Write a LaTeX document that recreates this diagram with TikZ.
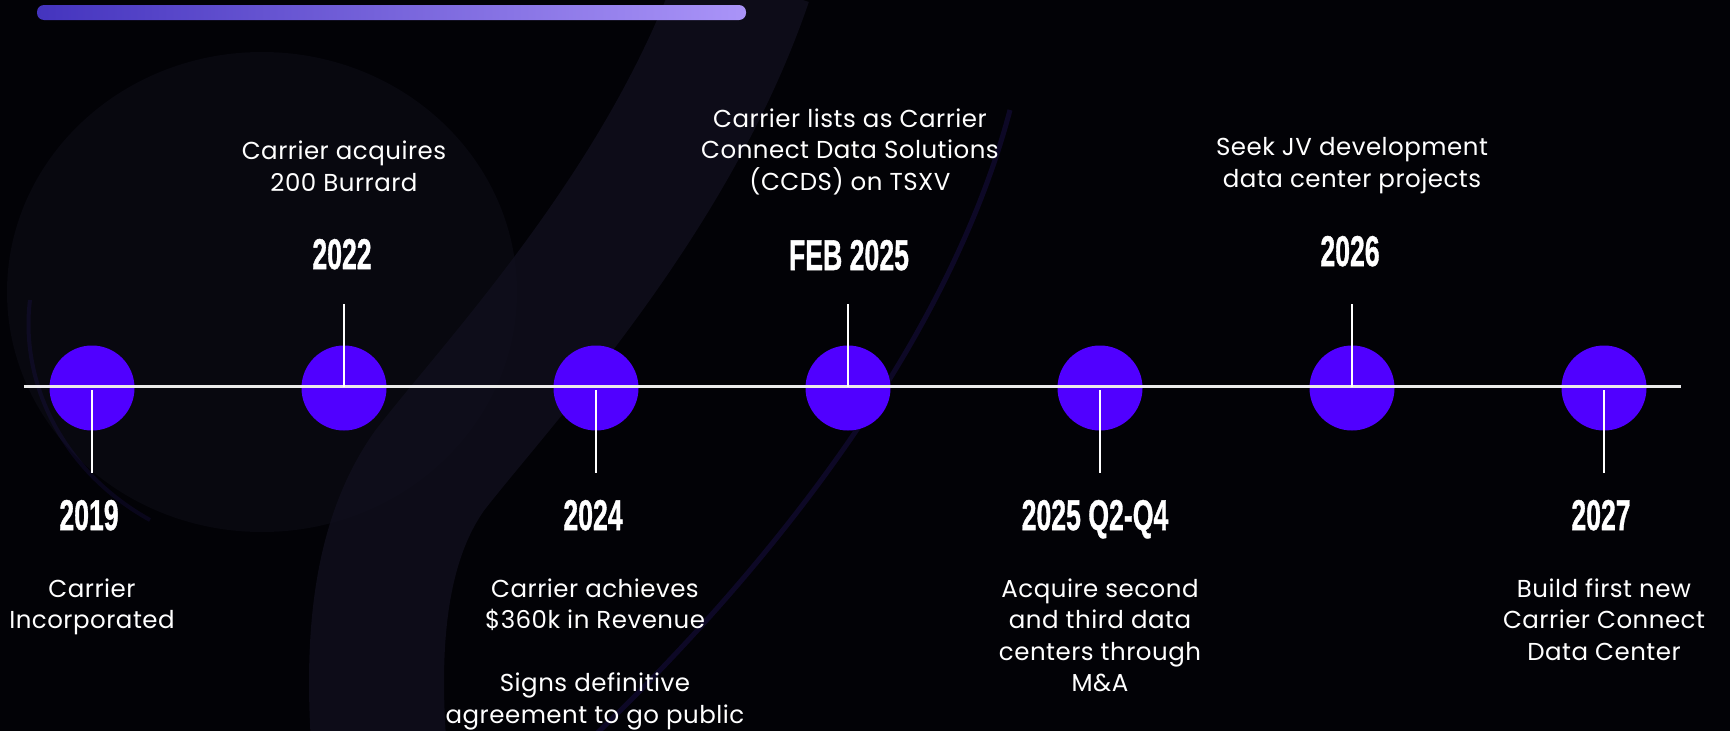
\documentclass[tikz,border=0pt]{standalone}
\usepackage{fontspec}
\setmainfont{Poppins}[LetterSpace=2]
\newfontfamily\yearfont{Liberation Sans}[BoldFeatures={FakeBold=1.2}]
\usetikzlibrary{calc}
\definecolor{bg}{RGB}{2,2,6}
\definecolor{dot}{RGB}{80,0,255}
\definecolor{barL}{RGB}{68,52,190}
\definecolor{barR}{RGB}{170,148,248}
\definecolor{ring}{RGB}{8,8,15}
\definecolor{band}{RGB}{16,15,29}
\definecolor{edge}{RGB}{60,34,170}
\newcommand\yrtxt[1]{\scalebox{0.62}[1]{\yearfont\bfseries\fontsize{43}{43}\selectfont #1}}
\tikzset{
  dotnode/.style={circle, fill=dot, minimum size=85pt, inner sep=0pt},
  stem/.style={draw=white, line width=2pt},
  axis/.style={draw=white!92!black, line width=2.5pt},
  yearlbl/.style={text=white, anchor=base, inner sep=0pt},
  desc/.style={text=white, anchor=base, inner sep=0pt, align=center,
    font=\fontsize{24.5}{31.5}\selectfont},
}
\begin{document}
\begin{tikzpicture}[x=1pt,y=-1pt]
\useasboundingbox (0,0) rectangle (1730,731);
\fill[bg] (0,0) rectangle (1730,731);
% background decoration
\begin{scope}
\clip (0,0) rectangle (1730,731);
\fill[ring] (262,292) ellipse [x radius=255, y radius=240];
\draw[band, line width=135pt, opacity=0.8, line cap=butt]
  (745,-20) .. controls (670,200) and (500,380) .. (430,470)
  .. controls (380,540) and (370,640) .. (380,760);
\draw[edge, line width=5pt, opacity=0.2]
  (1010,110) .. controls (960,300) and (820,520) .. (590,740);
\draw[edge, line width=4pt, opacity=0.13]
  (30,300) .. controls (20,380) and (60,470) .. (150,520);
\end{scope}
% top bar
\shade[left color=barL, right color=barR, rounded corners=7pt] (37,5) rectangle (746,20);
% axis
\coordinate (aL) at (24,386.5);
\coordinate (aR) at (1681,386.5);
% dots
\foreach \i/\x in {1/92,2/344,3/596,4/848,5/1100,6/1352,7/1604}{
  \node[dotnode] (c\i) at (\x,388) {};
}
\draw[axis] (aL) -- (aR);
% stems up
\foreach \i/\x in {2/344,4/848,6/1352}{
  \coordinate (s\i) at (\x,304);
  \draw[stem] (c\i.center) ++(0,-1.5) coordinate (c\i t) (c\i t) -- (s\i);
}
% stems down
\foreach \i/\x in {1/92,3/596,5/1100,7/1604}{
  \coordinate (s\i) at (\x,473);
  \draw[stem] (c\i.center) ++(0,2) coordinate (c\i b) (c\i b) -- (s\i);
}
% year labels
\node[yearlbl] (y1) at (89,530) {\yrtxt{2019}};
\node[yearlbl] (y2) at (342,269) {\yrtxt{2022}};
\node[yearlbl] (y3) at (593,530) {\yrtxt{2024}};
\node[yearlbl] (y4) at (849,270) {\yrtxt{FEB 2025}};
\node[yearlbl] (y5) at (1095,530) {\yrtxt{2025 Q2-Q4}};
\node[yearlbl] (y6) at (1350,266) {\yrtxt{2026}};
\node[yearlbl] (y7) at (1601,530) {\yrtxt{2027}};
% descriptions (anchor = baseline of last line)
\node[desc] (t1) at (92,628.5) {Carrier\\Incorporated};
\node[desc] (t2) at (344,191) {Carrier acquires\\200 Burrard};
\node[desc] (t3) at (595,723) {Carrier achieves\\\$360k in Revenue\\[31.5pt]Signs definitive\\agreement to go public};
\node[desc] (t4) at (850,190) {Carrier lists as Carrier\\Connect Data Solutions\\(CCDS) on TSXV};
\node[desc] (t5) at (1100,691.5) {Acquire second\\and third data\\centers through\\M\&A};
\node[desc] (t6) at (1352,187) {Seek JV development\\data center projects};
\node[desc] (t7) at (1604,660) {Build first new\\Carrier Connect\\Data Center};
\end{tikzpicture}
\end{document}
